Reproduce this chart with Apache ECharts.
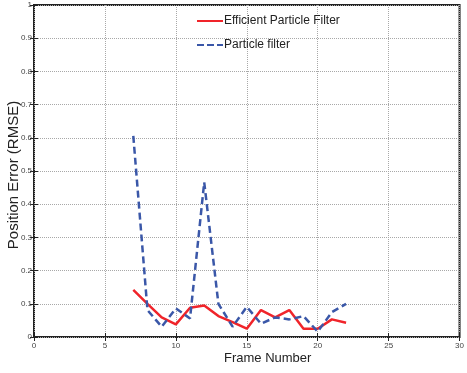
<!DOCTYPE html>
<html><head><meta charset="utf-8">
<script src="https://cdn.jsdelivr.net/npm/echarts@6/dist/echarts.min.js"></script>
<style>html,body{margin:0;padding:0;background:#fff}#c{width:467px;height:373px}</style>
</head><body><div id="c"></div>
<script>
const frames = [7,8,9,10,11,12,13,14,15,16,17,18,19,20,21,22];
const efficientPF = [0.142,0.100,0.059,0.038,0.088,0.095,0.063,0.045,0.025,0.081,0.059,0.081,0.025,0.025,0.053,0.043];
const particleF = [0.606,0.081,0.031,0.086,0.056,0.466,0.100,0.031,0.091,0.040,0.059,0.053,0.063,0.016,0.075,0.100];
const xTicks = [0,5,10,15,20,25,30];
const yTicks = [0,0.1,0.2,0.3,0.4,0.5,0.6,0.7,0.8,0.9,1];
const names = ['Efficient Particle Filter','Particle filter'];

const chart = echarts.init(document.getElementById('c'));
const font = 'Liberation Sans, Arial, sans-serif';
const split = {show:true, lineStyle:{color:'#a8a8a8', type:[1,1], width:1}};
chart.setOption({
  animation:false,
  grid:{left:34, right:3, top:5, bottom:36, show:true, borderColor:'#222', borderWidth:2, backgroundColor:'#fff'},
  legend:{
    orient:'vertical', left:192, top:10, itemGap:12, itemWidth:26, itemHeight:10,
    textStyle:{fontFamily:font, fontSize:12, color:'#222', padding:[0,0,0,-4]},
    data:[{name:names[0], icon:'path://M0,4 L26,4 L26,6 L0,6 Z'},{name:names[1], icon:'path://M0,4 L7,4 L7,6 L0,6 Z M10,4 L17,4 L17,6 L10,6 Z M20,4 L26,4 L26,6 L20,6 Z'}]
  },
  xAxis:[{type:'value', min:0, max:30, interval:5,
    axisLine:{show:false}, axisTick:{show:true, inside:true, length:4, lineStyle:{color:'#222'}},
    axisLabel:{fontFamily:font, fontSize:8, color:'#444', margin:5, formatter:v=>xTicks.includes(v)?String(v):''},
    splitLine:split},
    {type:'value', position:'top', min:0, max:30, interval:5, axisLine:{show:false}, axisTick:{show:true, inside:true, length:4, lineStyle:{color:'#222'}}, axisLabel:{show:false}, splitLine:{show:false}}],
  yAxis:[{type:'value', min:0, max:1, interval:0.1,
    axisLine:{show:false}, axisTick:{show:true, inside:true, length:4, lineStyle:{color:'#222'}},
    axisLabel:{fontFamily:font, fontSize:8, color:'#444', margin:2, formatter:v=>{const r=Math.round(v*10)/10; return yTicks.includes(r)?String(r):'';}},
    splitLine:split},
    {type:'value', position:'right', min:0, max:1, interval:0.1, axisLine:{show:false}, axisTick:{show:true, inside:true, length:4, lineStyle:{color:'#222'}}, axisLabel:{show:false}, splitLine:{show:false}}],
  series:[
    {name:names[0], type:'line', data:frames.map((f,i)=>[f,efficientPF[i]]), symbol:'none', lineStyle:{color:'#f0242a', width:2.5}, itemStyle:{color:'#f0242a'}},
    {name:names[1], type:'line', data:frames.map((f,i)=>[f,particleF[i]]), symbol:'none', lineStyle:{color:'#3a57a8', width:2.5, type:[7,4]}, itemStyle:{color:'#3a57a8'}}
  ],
  graphic:[
    {type:'text', left:224, top:352, style:{text:'Frame Number', font:'13px '+font, fill:'#222'}},
    {type:'text', x:14, y:175, rotation:Math.PI/2, style:{text:'Position Error (RMSE)', font:'15px '+font, fill:'#222', align:'center', verticalAlign:'middle'}}
  ]
});
</script></body></html>
